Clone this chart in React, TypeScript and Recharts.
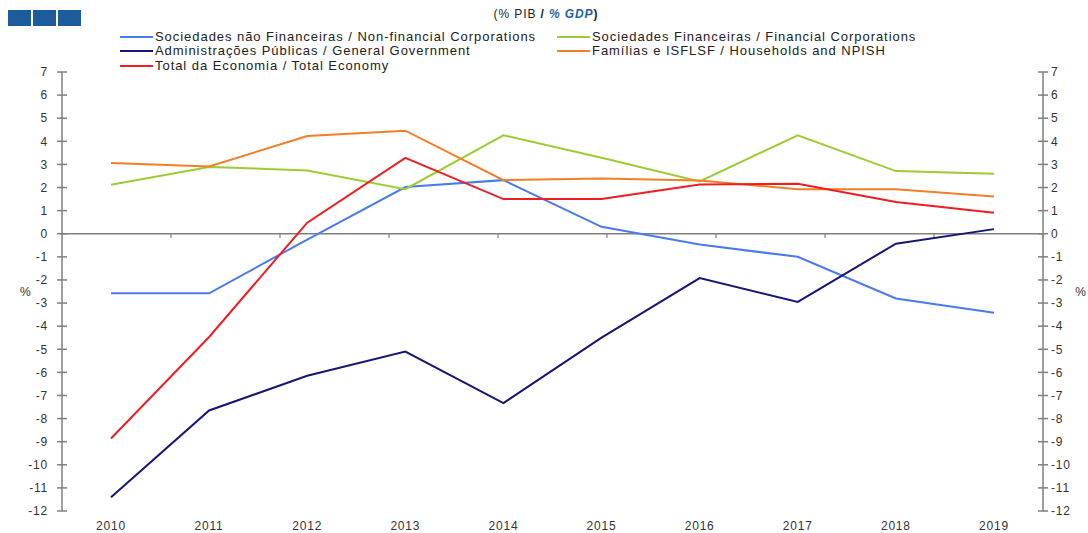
import { Line, LineChart, ReferenceLine, XAxis, YAxis } from 'recharts'

const years = ['2010', '2011', '2012', '2013', '2014', '2015', '2016', '2017', '2018', '2019']
const nonFinancial = [-2.58, -2.58, -0.25, 2.02, 2.32, 0.3, -0.47, -1.0, -2.8, -3.42]
const financial = [2.12, 2.89, 2.74, 1.93, 4.26, 3.29, 2.26, 4.26, 2.71, 2.6]
const government = [-11.4, -7.65, -6.15, -5.1, -7.33, -4.5, -1.92, -2.95, -0.43, 0.2]
const households = [3.06, 2.91, 4.23, 4.46, 2.32, 2.39, 2.3, 1.93, 1.93, 1.61]
const total = [-8.86, -4.47, 0.48, 3.28, 1.5, 1.5, 2.13, 2.16, 1.37, 0.91]
const yTicks = [-12, -11, -10, -9, -8, -7, -6, -5, -4, -3, -2, -1, 0, 1, 2, 3, 4, 5, 6, 7]
// boundaries between the year bands, on a hidden numeric x axis
const bandEdges = [1, 2, 3, 4, 5, 6, 7, 8, 9]

const series = [
    { key: 'nonFinancial', name: 'Sociedades não Financeiras / Non-financial Corporations', color: '#4a7bec' },
    { key: 'financial', name: 'Sociedades Financeiras / Financial Corporations', color: '#9acd32' },
    { key: 'government', name: 'Administrações Públicas / General Government', color: '#161677' },
    { key: 'households', name: 'Famílias e ISFLSF / Households and NPISH', color: '#f47d28' },
    { key: 'total', name: 'Total da Economia / Total Economy', color: '#ee1d23' },
]

const data = years.map((year, i) => ({
    year,
    nonFinancial: nonFinancial[i],
    financial: financial[i],
    government: government[i],
    households: households[i],
    total: total[i],
}))

const FONT = '"Liberation Sans", Arial, sans-serif'
const AXIS = '#7f7f7f'
const tickFont = { fontSize: 12, fill: '#333', fontFamily: FONT, letterSpacing: 0.8 }

const legendPos = [
    { left: 120, top: 29 },
    { left: 557, top: 29 },
    { left: 120, top: 43 },
    { left: 557, top: 43 },
    { left: 120, top: 58 },
]

// extra axes only carry tick marks; an invisible line keeps them populated
const extraAxes = ['leftIn', 'right', 'rightIn']

export default function App() {
    return (
        <div style={{ position: 'absolute', left: 0, top: 0, width: 1088, height: 533, background: '#fff', fontFamily: FONT }}>
            <div style={{ position: 'absolute', left: 8, top: 10, display: 'flex', gap: 2 }}>
                {[0, 1, 2].map((i) => (
                    <div key={i} style={{ width: 23, height: 16, background: '#1d5c9c' }} />
                ))}
            </div>
            <div style={{ position: 'absolute', left: 0, width: 1092, top: 7, textAlign: 'center', fontSize: 12, color: '#222', letterSpacing: 0.9 }}>
                (% PIB <b>/</b> <b style={{ color: '#1f62a8', fontStyle: 'italic' }}>% GDP</b><b>)</b>
            </div>
            {series.map((s, i) => (
                <div
                    key={s.key}
                    style={{
                        position: 'absolute',
                        left: legendPos[i].left,
                        top: legendPos[i].top,
                        display: 'flex',
                        alignItems: 'center',
                        fontSize: 13,
                        color: '#222',
                        letterSpacing: 0.95,
                        whiteSpace: 'nowrap',
                    }}
                >
                    <span style={{ display: 'inline-block', width: 33, height: 2, background: s.color, marginRight: 2 }} />
                    {s.name}
                </div>
            ))}
            <div style={{ position: 'absolute', left: 0, top: 0 }}>
                <LineChart width={1088} height={533} data={data} margin={{ top: 72, right: 0, bottom: 0, left: 0 }}>
                    <XAxis
                        dataKey="year"
                        axisLine={false}
                        tickLine={false}
                        tickSize={0}
                        tickMargin={10}
                        height={22}
                        padding={{ left: 49, right: 49 }}
                        tick={tickFont}
                        interval={0}
                    />
                    <XAxis xAxisId="edges" type="number" domain={[0, 10]} hide />
                    <YAxis
                        yAxisId="left"
                        orientation="left"
                        width={62}
                        domain={[-12, 7]}
                        allowDataOverflow
                        ticks={yTicks}
                        interval={0}
                        tickSize={5}
                        tickMargin={9}
                        tickLine={{ stroke: AXIS, strokeWidth: 1.5 }}
                        axisLine={{ stroke: AXIS, strokeWidth: 1.5 }}
                        tick={tickFont}
                        label={{ value: '%', position: 'insideLeft', offset: 20, fontSize: 12, fill: '#333', fontFamily: FONT }}
                    />
                    <YAxis
                        yAxisId="leftIn"
                        orientation="left"
                        mirror
                        domain={[-12, 7]}
                        allowDataOverflow
                        ticks={yTicks}
                        interval={0}
                        tickSize={5}
                        tickLine={{ stroke: AXIS, strokeWidth: 1.5 }}
                        axisLine={false}
                        tick={{ fill: 'transparent', fontSize: 1 }}
                    />
                    <YAxis
                        yAxisId="right"
                        orientation="right"
                        width={45}
                        domain={[-12, 7]}
                        allowDataOverflow
                        ticks={yTicks}
                        interval={0}
                        tickSize={5}
                        tickMargin={3}
                        tickLine={{ stroke: AXIS, strokeWidth: 1.5 }}
                        axisLine={{ stroke: AXIS, strokeWidth: 1.5 }}
                        tick={tickFont}
                        label={{ value: '%', position: 'insideRight', offset: 2, fontSize: 12, fill: '#333', fontFamily: FONT }}
                    />
                    <YAxis
                        yAxisId="rightIn"
                        orientation="right"
                        mirror
                        domain={[-12, 7]}
                        allowDataOverflow
                        ticks={yTicks}
                        interval={0}
                        tickSize={5}
                        tickLine={{ stroke: AXIS, strokeWidth: 1.5 }}
                        axisLine={false}
                        tick={{ fill: 'transparent', fontSize: 1 }}
                    />
                    <ReferenceLine yAxisId="left" y={0} stroke={AXIS} strokeWidth={1.5} />
                    {bandEdges.map((e) => (
                        <ReferenceLine
                            key={e}
                            xAxisId="edges"
                            yAxisId="left"
                            segment={[
                                { x: e, y: 0 },
                                { x: e, y: -0.18 },
                            ]}
                            stroke={AXIS}
                            strokeWidth={1.2}
                        />
                    ))}
                    {extraAxes.map((id) => (
                        <Line
                            key={id}
                            yAxisId={id}
                            dataKey="total"
                            stroke="transparent"
                            dot={false}
                            activeDot={false}
                            legendType="none"
                            isAnimationActive={false}
                        />
                    ))}
                    {series.map((s) => (
                        <Line
                            key={s.key}
                            yAxisId="left"
                            type="linear"
                            dataKey={s.key}
                            name={s.name}
                            stroke={s.color}
                            strokeWidth={2}
                            dot={false}
                            activeDot={false}
                            isAnimationActive={false}
                        />
                    ))}
                </LineChart>
            </div>
        </div>
    )
}
